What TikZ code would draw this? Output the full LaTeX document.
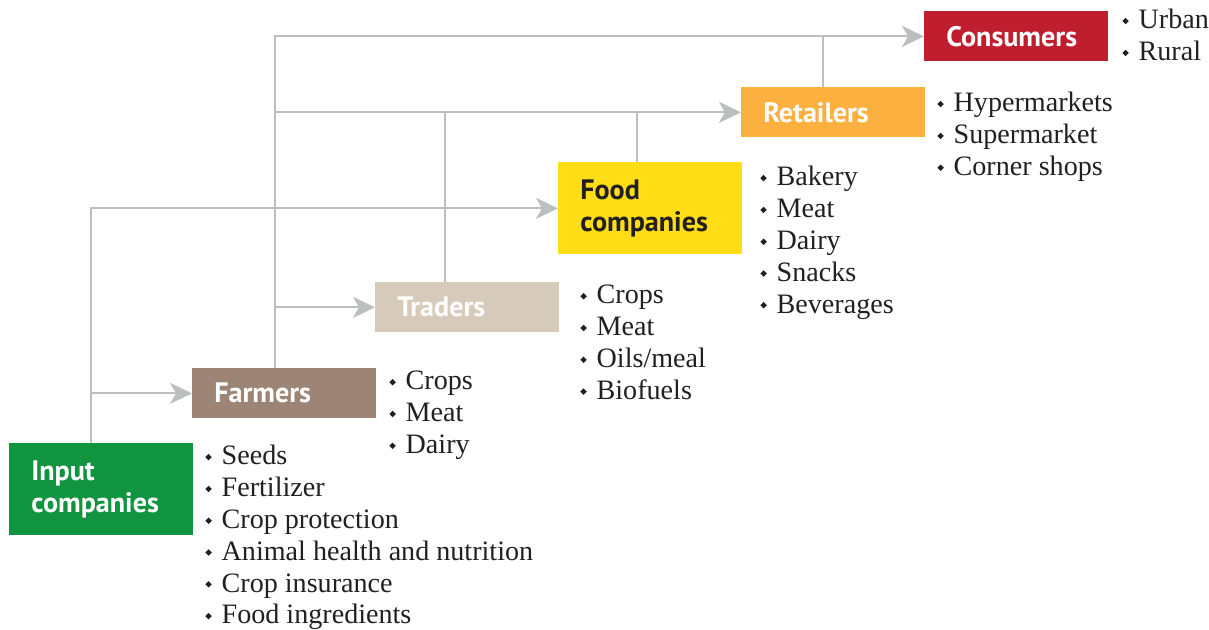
\documentclass[tikz,border=0pt]{standalone}
\usepackage{fontspec}
\usepackage{graphicx}
\setmainfont{Liberation Serif}
\newfontfamily\labelfont{PT Sans}
\usetikzlibrary{arrows.meta}

\definecolor{inputgreen}{HTML}{10943F}
\definecolor{farmbrown}{HTML}{9C8575}
\definecolor{tradebeige}{HTML}{D6CBBA}
\definecolor{foodyellow}{HTML}{FFDD17}
\definecolor{retorange}{HTML}{FBB040}
\definecolor{consred}{HTML}{BE1E2D}
\definecolor{linegray}{HTML}{BCBEC0}
\definecolor{inkdark}{HTML}{231F20}

% small diamond bullet
\newcommand{\bul}{\makebox[0.58em][l]{\raisebox{0.35ex}{\rotatebox{45}{\rule{2.6pt}{2.6pt}}}}}

\tikzset{
  stage/.style={anchor=north west, minimum width=3.68cm, inner xsep=0.44cm,
    text width=2.8cm, align=left, text=white,
    font=\labelfont\bfseries\fontsize{16}{18.2}\selectfont},
  onerow/.style={minimum height=1cm},
  tworow/.style={minimum height=1.84cm},
  items/.style={anchor=north west, align=left, inner sep=0pt, text=inkdark,
    font=\fontsize{16}{16}\selectfont, text depth=0pt},
  conn/.style={draw=linegray, line width=1.3pt},
  flow/.style={conn, -{Stealth[length=4.4mm, width=4.2mm, inset=1.2mm]}}
}

\begin{document}
\begin{tikzpicture}[x=0.02cm, y=-0.02cm]
\useasboundingbox (0,0) rectangle (1209,629);

% stage boxes
\node[stage, tworow, fill=inputgreen] (inp) at (9,443) {Input\\companies};
\node[stage, onerow, fill=farmbrown] (farm) at (192,368) {Farmers};
\node[stage, onerow, fill=tradebeige] (trad) at (375,282) {Traders};
\node[stage, tworow, fill=foodyellow, text=inkdark] (food) at (558,162) {Food\\companies};
\node[stage, onerow, fill=retorange] (ret) at (741,87) {Retailers};
\node[stage, onerow, fill=consred] (cons) at (924,11) {Consumers};

% item lists beside each box
\def\ls{\\[2.1pt]}
\node[items] (inpl) at (205,445) {\bul Seeds\ls \bul Fertilizer\ls \bul Crop protection\ls \bul Animal health and nutrition\ls \bul Crop insurance\ls \bul Food ingredients};
\node[items] (farml) at (389,371) {\bul Crops\ls \bul Meat\ls \bul Dairy};
\node[items] (tradl) at (580,285) {\bul Crops\ls \bul Meat\ls \bul Oils/meal\ls \bul Biofuels};
\node[items] (foodl) at (760,166) {\bul Bakery\ls \bul Meat\ls \bul Dairy\ls \bul Snacks\ls \bul Beverages};
\node[items] (retl) at (937,92) {\bul Hypermarkets\ls \bul Supermarket\ls \bul Corner shops};
\node[items] (consl) at (1122,9) {\bul Urban\ls \bul Rural};

% trunk positions of the connector lines
\coordinate (vA) at (91,0);
\coordinate (vB) at (275,0);
\coordinate (vC) at (445,0);
\coordinate (vD) at (637,0);
\coordinate (vE) at (823,0);

% connectors
\draw[flow] (inp.north -| vA) |- (food.west);
\draw[flow] (vA |- farm.west) -- (farm.west);
\draw[flow] (farm.north -| vB) |- (cons.west);
\draw[flow] (vB |- trad.west) -- (trad.west);
\draw[flow] (vB |- ret.west) -- (ret.west);
\draw[conn] (trad.north -| vC) -- (vC |- ret.west);
\draw[conn] (food.north -| vD) -- (vD |- ret.west);
\draw[conn] (ret.north -| vE) -- (vE |- cons.west);
\end{tikzpicture}
\end{document}
